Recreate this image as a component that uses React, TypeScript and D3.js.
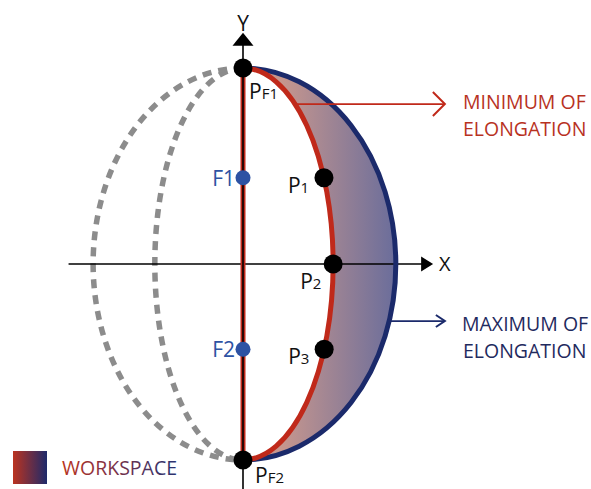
import React from 'react';
import * as d3 from 'd3';

const W = 591;
const H = 489;

// Geometry in data units (semi-axis along Y = 1)
const xAxisExtent = [-0.89, 0.97];
const yAxisExtent = [-1.15, 1.18];
const minElongation = 0.46; // x semi-axis of minimum-elongation curve
const maxElongation = 0.78; // x semi-axis of maximum-elongation curve
const mirrorCurves = [0.45, 0.765]; // dashed mirrored curves (left side)
const pointNames = ['1', '2', '3'];
const pointYs = [0.44, 0, -0.435];
const fociNames = ['F1', 'F2'];
const fociYs = [0.44, -0.435];
const minArrowY = 0.816;
const maxArrowY = -0.291;
const arrowEndX = 1.03;

const RED = '#c0291a';
const NAVY = '#1b2a6b';
const RED_TEXT = '#b8321f';
const NAVY_TEXT = '#1f2a5e';
const FONT = '"Open Sans", "Liberation Sans", sans-serif';

export default function App() {
  const cx = 243;
  const unit = 196;
  const x = d3.scaleLinear().domain([0, 1]).range([cx, cx + unit]);
  const y = d3.scaleLinear().domain([0, 1]).range([264, 264 - unit]);
  const rpx = (v: number) => x(v) - x(0);
  const top = y(1);
  const bot = y(-1);
  const ry = y(0) - y(1);

  const arc = (rx: number, sweep: number) =>
    `M${cx},${top} A${rpx(rx)},${ry} 0 0 ${sweep} ${cx},${bot}`;

  const areaPath =
    `M${cx},${top} A${rpx(maxElongation)},${ry} 0 0 1 ${cx},${bot} ` +
    `A${rpx(minElongation)},${ry} 0 0 0 ${cx},${top} Z`;

  const onEllipse = (rx: number, yv: number) => rx * Math.sqrt(Math.max(0, 1 - yv * yv));

  const chevron = (tx: number, ty: number, w: number, h: number) =>
    `M${tx - w},${ty - h} L${tx},${ty} L${tx - w},${ty + h}`;

  const label = (px: number, py: number, main: string, sub: string, color = '#111') => (
    <text x={px} y={py} fill={color} fontFamily={FONT} fontSize={21}>
      {main}
      <tspan fontSize={15}>{sub}</tspan>
    </text>
  );

  return (
    <svg width={W} height={H} style={{ position: 'absolute', left: 0, top: 0 }}>
      <defs>
        <linearGradient id="ws" gradientUnits="userSpaceOnUse" x1={x(0.2)} x2={x(maxElongation)} y1={0} y2={0}>
          <stop offset="0" stopColor="#c6968e" />
          <stop offset="1" stopColor="#6a6d9b" />
        </linearGradient>
        <linearGradient id="legend" x1="0" x2="1" y1="0" y2="0">
          <stop offset="0" stopColor="#bb3320" />
          <stop offset="1" stopColor="#1e2a6a" />
        </linearGradient>
        <linearGradient id="legendText" gradientUnits="userSpaceOnUse" x1={62} x2={176} y1={0} y2={0}>
          <stop offset="0" stopColor="#b8321f" />
          <stop offset="0.35" stopColor="#8a3040" />
          <stop offset="1" stopColor="#2a3270" />
        </linearGradient>
      </defs>

      {/* workspace area */}
      <path d={areaPath} fill="url(#ws)" />

      {/* dashed mirrored curves */}
      {mirrorCurves.map((rx, i) => (
        <path key={i} d={arc(rx, 0)} fill="none" stroke="#8c8c8c" strokeWidth={5.5} strokeDasharray="9 7" />
      ))}

      {/* X axis */}
      <line x1={x(xAxisExtent[0])} x2={x(xAxisExtent[1]) - 10} y1={y(0)} y2={y(0)} stroke="#000" strokeWidth={1.6} />
      <path d={`M${x(xAxisExtent[1])},${y(0)} L${x(xAxisExtent[1]) - 12},${y(0) - 7.5} L${x(xAxisExtent[1]) - 12},${y(0) + 7.5} Z`} fill="#000" />
      <text x={439} y={271} fontFamily={FONT} fontSize={20} fill="#111">X</text>

      {/* red segment on Y axis */}
      <line x1={cx} x2={cx} y1={top} y2={bot} stroke={RED} strokeWidth={5} />
      {/* Y axis */}
      <line x1={cx} x2={cx} y1={y(yAxisExtent[0])} y2={y(yAxisExtent[1]) + 10} stroke="#000" strokeWidth={1.6} />
      <path d={`M${cx},${y(yAxisExtent[1])} L${cx - 10.5},${y(yAxisExtent[1]) + 13} L${cx + 10.5},${y(yAxisExtent[1]) + 13} Z`} fill="#000" />
      <text x={cx} y={31} textAnchor="middle" fontFamily={FONT} fontSize={21} fill="#111">Y</text>

      {/* curves */}
      <path d={arc(maxElongation, 1)} fill="none" stroke={NAVY} strokeWidth={5} />
      <path d={arc(minElongation, 1)} fill="none" stroke={RED} strokeWidth={5} />

      {/* min arrow */}
      <line x1={x(onEllipse(minElongation, minArrowY))} x2={x(arrowEndX)} y1={y(minArrowY)} y2={y(minArrowY)} stroke={RED} strokeWidth={1.8} />
      <path d={chevron(x(arrowEndX), y(minArrowY), 12, 12)} fill="none" stroke={RED} strokeWidth={2} />
      <text x={463} y={109} fontFamily={FONT} fontSize={19.5} fill={RED_TEXT}>MINIMUM OF</text>
      <text x={463} y={136} fontFamily={FONT} fontSize={19.5} fill={RED_TEXT}>ELONGATION</text>

      {/* max arrow */}
      <line x1={x(onEllipse(maxElongation, maxArrowY))} x2={x(arrowEndX)} y1={y(maxArrowY)} y2={y(maxArrowY)} stroke={NAVY} strokeWidth={1.8} />
      <path d={chevron(x(arrowEndX), y(maxArrowY), 9, 6)} fill="none" stroke={NAVY} strokeWidth={2} />
      <text x={462} y={331} fontFamily={FONT} fontSize={19.5} fill={NAVY_TEXT}>MAXIMUM OF</text>
      <text x={463} y={358} fontFamily={FONT} fontSize={19.5} fill={NAVY_TEXT}>ELONGATION</text>

      {/* foci */}
      {fociYs.map((fy, i) => (
        <g key={fociNames[i]}>
          <circle cx={x(0)} cy={y(fy)} r={7.5} fill="#2d52a3" />
          <text x={x(0) - 8} y={y(fy) + 8} textAnchor="end" fontFamily={FONT} fontSize={21} fill="#2d52a3">{fociNames[i]}</text>
        </g>
      ))}

      {/* end points */}
      <circle cx={cx} cy={top} r={9.5} fill="#000" />
      <circle cx={cx} cy={bot} r={9.5} fill="#000" />
      {label(249, 99, 'P', 'F1')}
      {label(255, 483, 'P', 'F2')}

      {/* points on min curve */}
      {pointYs.map((py, i) => {
        const px = x(onEllipse(minElongation, py));
        const lx = i === 1 ? px - 33 : px - 36;
        const ly = i === 1 ? y(py) + 25 : y(py) + 15;
        return (
          <g key={pointNames[i]}>
            <circle cx={px} cy={y(py)} r={9.5} fill="#000" />
            {label(lx, ly, 'P', pointNames[i])}
          </g>
        );
      })}

      {/* legend */}
      <rect x={13} y={451} width={34} height={33} fill="url(#legend)" />
      <text x={62} y={475} fontFamily={FONT} fontSize={19.5} fill="url(#legendText)">WORKSPACE</text>
    </svg>
  );
}
